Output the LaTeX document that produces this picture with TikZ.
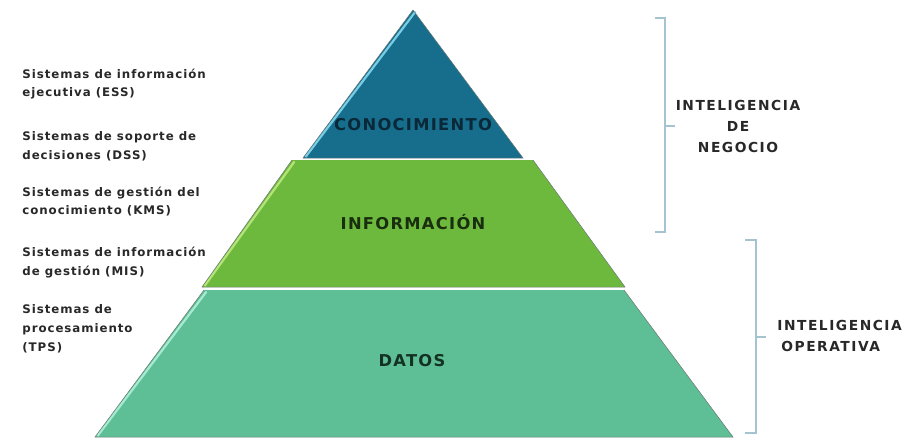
\documentclass[tikz,border=0pt]{standalone}
\usepackage{fontspec}
\setmainfont{DejaVu Sans}
\newfontfamily\sidefont[LetterSpace=8]{DejaVu Sans}
\newfontfamily\intelfont[LetterSpace=11]{DejaVu Sans}
\definecolor{conoc}{RGB}{22,110,140}
\definecolor{conocl}{RGB}{120,205,230}
\definecolor{infor}{RGB}{109,185,61}
\definecolor{inforl}{RGB}{180,228,120}
\definecolor{datos}{RGB}{94,190,150}
\definecolor{datosl}{RGB}{165,235,210}
\definecolor{edge}{RGB}{110,120,115}
\definecolor{brack}{RGB}{165,195,208}
\definecolor{txt}{RGB}{40,40,40}

\begin{document}
\begin{tikzpicture}[x=1pt,y=-1pt,thick,
  side/.style={font=\sidefont\bfseries\fontsize{11.8}{18.8}\selectfont,text=txt,align=left,anchor=west,inner sep=0pt},
  layer/.style={font=\sidefont\bfseries\fontsize{16.3}{18}\selectfont,inner sep=0pt},
  intel/.style={font=\intelfont\bfseries\fontsize{13.8}{21}\selectfont,text=txt,inner sep=0pt},
  brace/.style={brack,line width=1.1pt}]
  \useasboundingbox (0,0) rectangle (922,440);
  % layers of the pyramid
  \foreach \yt/\yb/\lt/\rt/\lb/\rb/\col/\lite in
    {10/158/413/413/303/523/conoc/conocl,
     160/287/292/533/202/625/infor/inforl,
     290/437/204/624/95/733/datos/datosl}
  {
    \fill[\col] (\lt,\yt) -- (\rt,\yt) -- (\rb,\yb) -- (\lb,\yb) -- cycle;
    \draw[\lite,line width=2.2pt] (\lt,\yt)+(2.5,1.5) -- +(\lb-\lt+2.5,\yb-\yt-1);
    \draw[edge,line width=.5pt] (\lt,\yt) -- (\lb,\yb) -- (\rb,\yb) -- (\rt,\yt);
  }
  % labels in the layers
  \node[layer,text={rgb,255:red,10;green,40;blue,55}] (conocimiento) at (413,125) {CONOCIMIENTO};
  \node[layer,text={rgb,255:red,25;green,45;blue,15}] (informacion) at (413,222) {INFORMACIÓN};
  \node[layer,text={rgb,255:red,20;green,50;blue,35}] (datos) at (412,361) {DATOS};
  % systems on the left
  \node[side] (ess) at (22,84) {Sistemas de información\\ejecutiva (ESS)};
  \node[side] (dss) at (22,146) {Sistemas de soporte de\\decisiones (DSS)};
  \node[side] (kms) at (22,201.5) {Sistemas de gestión del\\conocimiento (KMS)};
  \node[side] (mis) at (22,262.5) {Sistemas de información\\de gestión (MIS)};
  \node[side] (tps) at (22,329) {Sistemas de\\procesamiento\\(TPS)};
  % brackets on the right
  \draw[brace] (655,18) -- (665,18) -- (665,232) -- (655,232);
  \draw[brace] (665,126) -- +(10,0);
  \draw[brace] (745,240) -- (756,240) -- (756,433) -- (745,433);
  \draw[brace] (756,337) -- +(10,0);
  \node[intel,align=center] (negocio) at (738,126) {INTELIGENCIA\\DE\\NEGOCIO};
  \node[intel,align=left,anchor=west] (operativa) at (777,336) {INTELIGENCIA\\\hspace{4pt}OPERATIVA};
\end{tikzpicture}
\end{document}
